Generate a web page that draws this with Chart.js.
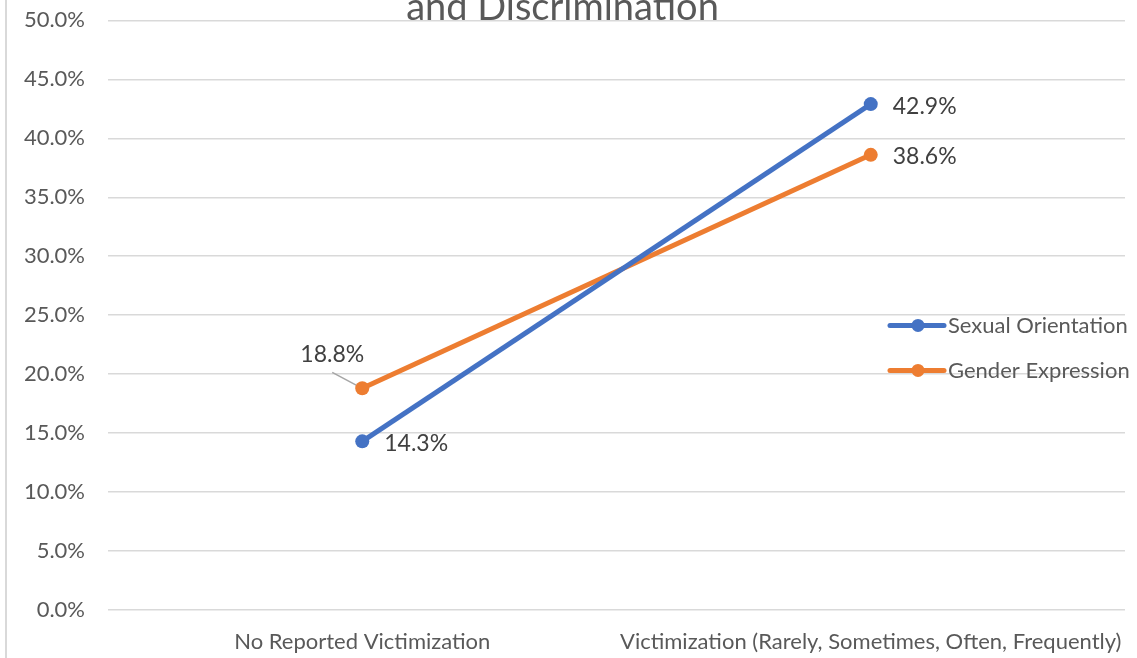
<!DOCTYPE html>
<html>
<head>
<meta charset="utf-8">
<title>Victimization and Discrimination</title>
<script src="https://cdn.jsdelivr.net/npm/chart.js@4"></script>
<style>
  html, body { margin: 0; padding: 0; background: #fff; overflow: hidden; }
  #frame { position: absolute; left: 5px; top: 0; width: 1132px; height: 658px; border-left: 2px solid #d9d9d9; box-sizing: border-box; }
  #wrap { position: absolute; left: 0; top: -20px; width: 1137px; height: 678px; }
</style>
</head>
<body>
<div id="frame"></div>
<div id="wrap"><canvas id="chart"></canvas></div>
<script>
// Categories and series (percent of respondents)
const categories = ['No Reported Victimization', 'Victimization (Rarely, Sometimes, Often, Frequently)'];
const sexualOrientation = [14.3, 42.9];
const genderExpression = [18.8, 38.6];
const seriesNames = ['Sexual Orientation', 'Gender Expression'];
const yTicksMin = 0, yTicksMax = 50, yTickStep = 5;

const FONT = 'Lato, "Liberation Sans", sans-serif';
const BLUE = '#4472C4', ORANGE = '#ED7D31';

// Value labels beside each point; the first orange point uses a leader line
const valueLabels = {
  id: 'valueLabels',
  beforeDatasetsDraw(chart, args, opts) {
    const ctx = chart.ctx;
    chart.data.datasets.forEach((ds, di) => {
      const meta = chart.getDatasetMeta(di);
      meta.data.forEach((pt, i) => {
        if ((ds.labelPlacement || [])[i] === 'leader') {
          ctx.save();
          ctx.strokeStyle = '#a6a6a6';
          ctx.lineWidth = 1.5;
          ctx.beginPath();
          ctx.moveTo(pt.x - 30, pt.y - 16);
          ctx.lineTo(pt.x, pt.y);
          ctx.stroke();
          ctx.restore();
        }
      });
    });
  },
  afterDatasetsDraw(chart, args, opts) {
    const ctx = chart.ctx;
    ctx.save();
    ctx.font = opts.font;
    ctx.fillStyle = opts.color;
    chart.data.datasets.forEach((ds, di) => {
      const meta = chart.getDatasetMeta(di);
      meta.data.forEach((pt, i) => {
        const txt = ds.data[i].toFixed(1) + '%';
        if ((ds.labelPlacement || [])[i] === 'leader') {
          ctx.textAlign = 'center';
          ctx.textBaseline = 'middle';
          ctx.fillText(txt, pt.x - 30, pt.y - 34);
        } else {
          ctx.textAlign = 'left';
          ctx.textBaseline = 'middle';
          ctx.fillText(txt, pt.x + 22, pt.y + 2);
        }
      });
    });
    ctx.restore();
  }
};

// Legend drawn over the right side of the plot
const sideLegend = {
  id: 'sideLegend',
  afterDraw(chart, args, opts) {
    const ctx = chart.ctx;
    const a = chart.chartArea;
    const x0 = a.right - 235;
    let y = a.top + 305;
    ctx.save();
    ctx.font = opts.font;
    ctx.textBaseline = 'middle';
    ctx.textAlign = 'left';
    chart.data.datasets.forEach(ds => {
      ctx.strokeStyle = ds.borderColor;
      ctx.lineWidth = 5;
      ctx.lineCap = 'round';
      ctx.beginPath();
      ctx.moveTo(x0, y);
      ctx.lineTo(x0 + 54, y);
      ctx.stroke();
      ctx.fillStyle = ds.borderColor;
      ctx.beginPath();
      ctx.arc(x0 + 28, y, 6.5, 0, Math.PI * 2);
      ctx.fill();
      ctx.fillStyle = opts.color;
      ctx.fillText(ds.label, x0 + 58, y + 1);
      y += 45;
    });
    ctx.restore();
  }
};

new Chart(document.getElementById('chart'), {
  type: 'line',
  data: {
    labels: categories,
    datasets: [
      {
        label: seriesNames[0], data: sexualOrientation,
        borderColor: BLUE, backgroundColor: BLUE,
        borderWidth: 5, pointRadius: 7, pointHoverRadius: 7,
        pointBorderWidth: 0, tension: 0
      },
      {
        label: seriesNames[1], data: genderExpression,
        borderColor: ORANGE, backgroundColor: ORANGE,
        borderWidth: 5, pointRadius: 7, pointHoverRadius: 7,
        pointBorderWidth: 0, tension: 0,
        labelPlacement: ['leader', 'right']
      }
    ]
  },
  options: {
    responsive: true,
    maintainAspectRatio: false,
    animation: false,
    events: [],
    layout: { padding: { left: 0, right: 12, top: 0, bottom: 0 } },
    plugins: {
      legend: { display: false },
      tooltip: { enabled: false },
      title: {
        display: true,
        text: 'and Discrimination',
        color: '#595959',
        font: { family: FONT, size: 38, weight: 'normal', lineHeight: 0.6 },
        padding: { top: 16.6, bottom: 1.0 }
      },
      valueLabels: { font: '23px ' + FONT, color: '#404040' },
      sideLegend: { font: '22px ' + FONT, color: '#595959' }
    },
    scales: {
      x: {
        type: 'category',
        offset: true,
        grid: { display: false, drawTicks: false },
        border: { display: false },
        ticks: { color: '#595959', font: { family: FONT, size: 22 }, padding: 19, maxRotation: 0, autoSkip: false },
        afterFit(scale) {
          scale.height = 48;
          scale.paddingLeft = 0;
          scale.paddingRight = 0;
        }
      },
      y: {
        min: yTicksMin, max: yTicksMax,
        grid: { color: '#d9d9d9', lineWidth: 1.5, drawTicks: false },
        border: { display: false },
        ticks: {
          stepSize: yTickStep,
          color: '#595959',
          font: { family: FONT, size: 22 },
          padding: 23,
          callback: v => v.toFixed(1) + '%'
        },
        afterFit(scale) { scale.width = 108; }
      }
    }
  },
  plugins: [valueLabels, sideLegend]
});
</script>
</body>
</html>
